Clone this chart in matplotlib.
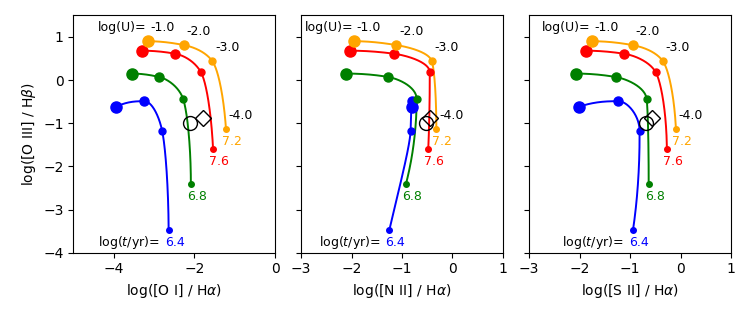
import numpy as np
import matplotlib
matplotlib.use("Agg")
import matplotlib.pyplot as plt

logU = [-1.0, -2.0, -3.0, -4.0]
ages = ["6.4", "6.8", "7.6", "7.2"]
colors = ["blue", "green", "red", "orange"]

# log([O III]/Hbeta) per age track at logU = -1..-4
y_oiii = {
    "6.4": [-0.62, -0.49, -1.18, -3.47],
    "6.8": [0.15, 0.07, -0.44, -2.40],
    "7.6": [0.68, 0.61, 0.18, -1.60],
    "7.2": [0.90, 0.81, 0.44, -1.14],
}
# log([O I]/Halpha)
x_oi = {
    "6.4": [-3.94, -3.24, -2.80, -2.64],
    "6.8": [-3.55, -2.87, -2.28, -2.09],
    "7.6": [-3.29, -2.48, -1.84, -1.54],
    "7.2": [-3.16, -2.26, -1.56, -1.22],
}
# log([N II]/Halpha)
x_nii = {
    "6.4": [-0.80, -0.81, -0.83, -1.25],
    "6.8": [-2.10, -1.27, -0.71, -0.92],
    "7.6": [-2.02, -1.16, -0.45, -0.48],
    "7.2": [-1.95, -1.11, -0.41, -0.32],
}
# log([S II]/Halpha)
x_sii = {
    "6.4": [-2.01, -1.23, -0.81, -0.94],
    "6.8": [-2.07, -1.28, -0.67, -0.63],
    "7.6": [-1.87, -1.12, -0.49, -0.27],
    "7.2": [-1.76, -0.95, -0.35, -0.09],
}
# observed points (circle, diamond) per panel: (x, y)
obs_circle = [(-2.12, -1.00), (-0.53, -1.00), (-0.69, -1.00)]
obs_diamond = [(-1.79, -0.89), (-0.45, -0.89), (-0.56, -0.89)]

xlabels = [r"log([O I] / H$\alpha$)", r"log([N II] / H$\alpha$)", r"log([S II] / H$\alpha$)"]
xlims = [(-5, 0), (-3, 1), (-3, 1)]
xticks = [[-4, -2, 0], [-3, -2, -1, 0, 1], [-3, -2, -1, 0, 1]]
ylabel = r"log([O III] / H$\beta$)"
ylim = (-4, 1.5)
yticks = [-4, -3, -2, -1, 0, 1]
msizes = [8, 6.5, 5, 4]


def pchip(x, y, xf):
    x = np.asarray(x, float)
    y = np.asarray(y, float)
    h = np.diff(x)
    dl = np.diff(y) / h
    n = len(x)
    d = np.zeros(n)
    for k in range(1, n - 1):
        if dl[k - 1] * dl[k] <= 0:
            d[k] = 0.0
        else:
            w1 = 2 * h[k] + h[k - 1]
            w2 = h[k] + 2 * h[k - 1]
            d[k] = (w1 + w2) / (w1 / dl[k - 1] + w2 / dl[k])

    def endslope(h0, h1, m0, m1):
        s = ((2 * h0 + h1) * m0 - h0 * m1) / (h0 + h1)
        if np.sign(s) != np.sign(m0):
            s = 0.0
        elif np.sign(m0) != np.sign(m1) and abs(s) > abs(3 * m0):
            s = 3 * m0
        return s

    d[0] = endslope(h[0], h[1], dl[0], dl[1])
    d[-1] = endslope(h[-1], h[-2], dl[-1], dl[-2])
    out = np.empty_like(xf)
    for j, xv in enumerate(xf):
        k = min(max(np.searchsorted(x, xv) - 1, 0), n - 2)
        t = (xv - x[k]) / h[k]
        h00 = 2 * t**3 - 3 * t**2 + 1
        h10 = t**3 - 2 * t**2 + t
        h01 = -2 * t**3 + 3 * t**2
        h11 = t**3 - t**2
        out[j] = h00 * y[k] + h10 * h[k] * d[k] + h01 * y[k + 1] + h11 * h[k] * d[k + 1]
    return out


fig = plt.figure(figsize=(7.47, 3.2), dpi=100)
lefts = [73.3, 301, 529]
w = 202.0
bottom = 1 - 252.7 / 320
height = (252.7 - 15.3) / 320
xdata_sets = [x_oi, x_nii, x_sii]

P = 0.72  # px -> pt

for i in range(3):
    ax = fig.add_axes([lefts[i] / 747, bottom, w / 747, height])
    xd = xdata_sets[i]
    for age, col in zip(ages, colors):
        xs = np.array(xd[age])
        ys = np.array(y_oiii[age])
        u = -np.array(logU)
        uf = np.linspace(1, 4, 300)
        ax.plot(pchip(u, xs, uf), pchip(u, ys, uf), color=col, lw=1.4, zorder=2)
        for k in range(4):
            ax.plot(xs[k], ys[k], 'o', color=col, ms=msizes[k], zorder=3)
        ax.annotate(age, (xs[-1], ys[-1]), xytext=(6 * P, -12.5 * P),
                    textcoords='offset points', ha='center', va='center',
                    color=col, fontsize=9)
        if age == "6.4":
            ax.annotate(r"log($t$/yr)=", (xs[-1], ys[-1]), xytext=(-9 * P, -12.5 * P),
                        textcoords='offset points', ha='right', va='center',
                        color='black', fontsize=9)
        if age == "7.2":
            for k in range(4):
                ax.annotate("%.1f" % logU[k], (xs[k], ys[k]), xytext=(15 * P, 13.5 * P),
                            textcoords='offset points', ha='center', va='center',
                            color='black', fontsize=9)
            ax.annotate("log(U)=", (xs[0], ys[0]), xytext=(-1 * P, 13.5 * P),
                        textcoords='offset points', ha='right', va='center',
                        color='black', fontsize=9)
    ax.plot(*obs_circle[i], 'o', mfc='none', mec='black', ms=10, mew=1.0, zorder=4)
    ax.plot(*obs_diamond[i], 'D', mfc='none', mec='black', ms=8, mew=1.0, zorder=4)
    ax.set_xlim(*xlims[i])
    ax.set_ylim(*ylim)
    ax.set_xticks(xticks[i])
    ax.set_yticks(yticks)
    ax.set_xlabel(xlabels[i], fontsize=10)
    if i == 0:
        ax.set_ylabel(ylabel, fontsize=10)
    else:
        ax.set_yticklabels([])

fig.savefig("out.png", dpi=100)
